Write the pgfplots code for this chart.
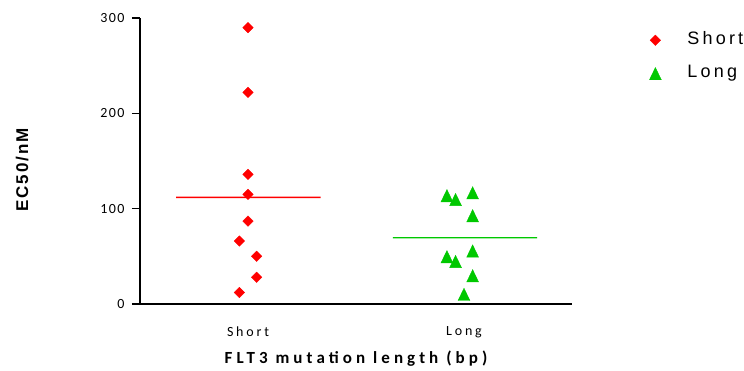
\documentclass[border=0pt]{standalone}
\usepackage{pgfplots}
\pgfplotsset{compat=1.18}
\usepackage{fontspec}
\setmainfont{Liberation Sans}
\newfontfamily\tickfont[LetterSpace=10]{Carlito}
\newfontfamily\catfont[LetterSpace=20]{Carlito}
\newfontfamily\xlabfont[LetterSpace=24]{Carlito}
\newfontfamily\ylabfont[LetterSpace=12]{Liberation Sans}
\newfontfamily\legfont[LetterSpace=18]{Liberation Sans}
\definecolor{myred}{RGB}{255,0,0}
\definecolor{mygreen}{RGB}{0,200,0}
\begin{document}
\begin{tikzpicture}
\path[use as bounding box] (0,0) rectangle (744pt,370pt);
\begin{axis}[
  at={(140pt,66pt)}, anchor=south west,
  scale only axis, width=432pt, height=286pt,
  xmin=-0.5, xmax=1.5, ymin=0, ymax=300,
  axis lines*=left,
  axis line style={line width=1.6pt, black},
  xtick={0,1}, xticklabels={Short,Long},
  ytick={0,100,200,300}, yticklabels={0,100,200,300},
  tick align=outside, major tick length=8pt,
  ytick style={line width=1.6pt, black},
  xtick style={draw=none},
  yticklabel style={font=\tickfont\fontsize{14}{16}\selectfont, xshift=-4pt},
  xticklabel style={font=\catfont\fontsize{14}{16}\selectfont, yshift=-11pt},
  xlabel={FLT3 mutation length (bp)},
  ylabel={EC50/nM},
  xlabel style={font=\xlabfont\bfseries\fontsize{17}{19}\selectfont, at={(axis description cs:0.5,-0.19)}, anchor=center},
  ylabel style={font=\ylabfont\bfseries\fontsize{17}{19}\selectfont, at={(axis description cs:-0.273,0.469)}, anchor=center},
  legend style={draw=none, fill=none, at={(1.172,0.97)}, anchor=north west,
    font=\legfont\fontsize{18}{20}\selectfont,
    nodes={text height=13pt, text depth=4pt, inner sep=3pt},
    row sep=10pt,
    /tikz/every odd column/.append style={column sep=23pt}},
  legend cell align=left,
  legend image code/.code={\draw[#1] plot coordinates {(0pt,0pt)};},
  clip=false,
]
\addplot[only marks, mark=square*, mark size=3.7pt, mark options={rotate=45, fill=myred, draw=myred}] coordinates {
  (0,290) (0,222) (0,136) (0,115) (0,87) (-0.04,66) (0.04,50) (0.04,28) (-0.04,12)
};
\addlegendentry{Short}
\addplot[only marks, mark=triangle*, mark size=6.8pt, mark options={yscale=1.2, yshift=-2pt, fill=mygreen, draw=mygreen}] coordinates {
  (0.921,114) (0.961,110) (1.04,117) (1.04,93) (1.04,56) (0.921,50) (0.961,45) (1.04,30) (1.0,10.5)
};
\addlegendentry{Long}
% mean lines (a vanishing slope avoids a rasterizer artefact with exactly horizontal strokes)
\addplot[forget plot, mark=none, draw=myred, line width=1.4pt] coordinates {(-0.333,111.8) (0.336,111.82)};
\addplot[forget plot, mark=none, draw=mygreen, line width=1.4pt] coordinates {(0.671,69.5) (1.338,69.52)};
\end{axis}
\end{tikzpicture}
\end{document}
